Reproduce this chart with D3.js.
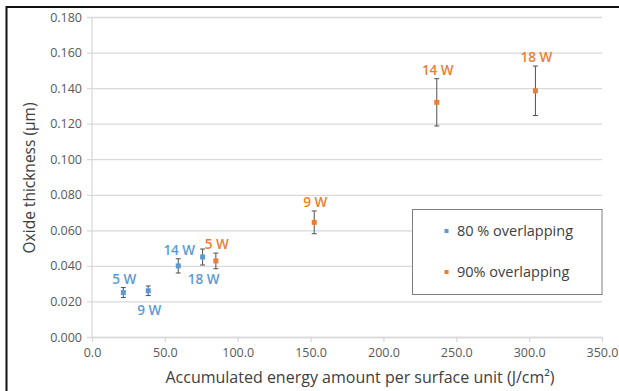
<!DOCTYPE html>
<html>
<head>
<meta charset="utf-8">
<script src="https://cdn.jsdelivr.net/npm/d3@7"></script>
<style>
  html, body { margin: 0; padding: 0; background: #fff; }
  svg { display: block; }
  text { font-family: "Open Sans", "Liberation Sans", sans-serif; }
</style>
</head>
<body>
<svg id="chart" width="619" height="391"></svg>
<script>
// Oxide thickness vs accumulated energy, two overlap settings
const seriesNames = ["80 % overlapping", "90% overlapping"];
const seriesColors = ["#5B9BD5", "#ED7D31"];

const power80 = ["5 W", "9 W", "14 W", "18 W"];
const energy80 = [21.5, 38.6, 59.2, 75.9];
const thickness80 = [0.025, 0.026, 0.040, 0.045];
const error80 = [0.0028, 0.0027, 0.0040, 0.0045];
const labelSide80 = ["above", "below", "above", "below"];

const power90 = ["5 W", "9 W", "14 W", "18 W"];
const energy90 = [85.0, 152.5, 236.6, 304.3];
const thickness90 = [0.0428, 0.0645, 0.132, 0.1385];
const error90 = [0.0044, 0.0064, 0.0133, 0.0139];
const labelSide90 = ["above", "above", "above", "above"];

const xTicks = [0, 50, 100, 150, 200, 250, 300, 350];
const yTicks = [0, 0.02, 0.04, 0.06, 0.08, 0.10, 0.12, 0.14, 0.16, 0.18];

const xTitle = "Accumulated energy amount per surface unit (J/cm²)";
const yTitle = "Oxide thickness (µm)";

const series = [
  { name: seriesNames[0], color: seriesColors[0],
    points: power80.map((p, i) => ({ power: p, x: energy80[i], y: thickness80[i], err: error80[i], side: labelSide80[i] })) },
  { name: seriesNames[1], color: seriesColors[1],
    points: power90.map((p, i) => ({ power: p, x: energy90[i], y: thickness90[i], err: error90[i], side: labelSide90[i] })) }
];

const svg = d3.select("#chart");

// outer frame
svg.append("rect")
  .attr("x", 6.5).attr("y", 7).attr("width", 640).attr("height", 420)
  .attr("fill", "none").attr("stroke", "#111").attr("stroke-width", 2);

const plot = { left: 92, right: 602, top: 17, bottom: 337 };

const x = d3.scaleLinear().domain([0, 350]).range([plot.left, plot.right]);
const y = d3.scaleLinear().domain([0, 0.18]).range([plot.bottom, plot.top]);

// horizontal gridlines with the y axis ticks
const yAxis = d3.axisLeft(y).tickValues(yTicks).tickFormat(d3.format(".3f"))
  .tickSize(-(plot.right - plot.left)).tickPadding(10);
const gy = svg.append("g").attr("transform", `translate(${plot.left},0)`).call(yAxis);
gy.select(".domain").remove();
gy.selectAll(".tick line").attr("stroke", "#d9d9d9").attr("stroke-width", 1.3).attr("x1", -5);
gy.selectAll(".tick text").attr("fill", "#595959").style("font-size", "12.5px");

// y axis line
svg.append("line")
  .attr("x1", plot.left).attr("x2", plot.left)
  .attr("y1", plot.top).attr("y2", plot.bottom)
  .attr("stroke", "#d9d9d9").attr("stroke-width", 1.3);

// x axis
const xAxis = d3.axisBottom(x).tickValues(xTicks).tickFormat(d3.format(".1f"))
  .tickSize(5).tickSizeOuter(0).tickPadding(6);
const gx = svg.append("g").attr("transform", `translate(0,${plot.bottom})`).call(xAxis);
gx.select(".domain").attr("stroke", "#d9d9d9").attr("stroke-width", 1.3);
gx.selectAll(".tick line").attr("stroke", "#d9d9d9").attr("stroke-width", 1.3);
gx.selectAll(".tick text").attr("fill", "#595959").style("font-size", "12.5px");

// axis titles
svg.append("text")
  .attr("x", 360).attr("y", 383)
  .attr("text-anchor", "middle")
  .attr("fill", "#404040").style("font-size", "16px")
  .text(xTitle);

svg.append("text")
  .attr("transform", "translate(35,178) rotate(-90)")
  .attr("text-anchor", "middle")
  .attr("fill", "#404040").style("font-size", "15.5px")
  .text(yTitle);

// error bars, markers and labels
series.forEach(s => {
  const g = svg.append("g");
  const pts = g.selectAll("g.pt").data(s.points).join("g").attr("class", "pt");

  pts.append("line")
    .attr("x1", d => x(d.x)).attr("x2", d => x(d.x))
    .attr("y1", d => y(d.y + d.err)).attr("y2", d => y(d.y - d.err))
    .attr("stroke", "#505050").attr("stroke-width", 1);
  [1, -1].forEach(sign => {
    pts.append("line")
      .attr("x1", d => x(d.x) - 2.5).attr("x2", d => x(d.x) + 2.5)
      .attr("y1", d => y(d.y + sign * d.err)).attr("y2", d => y(d.y + sign * d.err))
      .attr("stroke", "#505050").attr("stroke-width", 1);
  });

  pts.append("rect")
    .attr("x", d => x(d.x) - 2.5).attr("y", d => y(d.y) - 2.5)
    .attr("width", 5).attr("height", 5)
    .attr("fill", s.color);

  pts.append("text")
    .attr("x", d => x(d.x) + 1)
    .attr("y", d => d.side === "above" ? y(d.y + d.err) - 4 : y(d.y - d.err) + 19)
    .attr("text-anchor", "middle")
    .attr("fill", s.color)
    .style("font-size", "13.5px").style("font-weight", 600)
    .text(d => d.power);
});

// legend
const legend = svg.append("g");
legend.append("rect")
  .attr("x", 412.5).attr("y", 209.5).attr("width", 189.5).attr("height", 85)
  .attr("fill", "#fff").attr("stroke", "#7f7f7f").attr("stroke-width", 1);
series.forEach((s, i) => {
  const cy = 231 + i * 41;
  legend.append("rect")
    .attr("x", 444.5).attr("y", cy - 2).attr("width", 4).attr("height", 4)
    .attr("fill", s.color);
  legend.append("text")
    .attr("x", 457).attr("y", cy).attr("dy", "0.35em")
    .attr("fill", "#404040").style("font-size", "14.5px")
    .text(s.name);
});
</script>
</body>
</html>
